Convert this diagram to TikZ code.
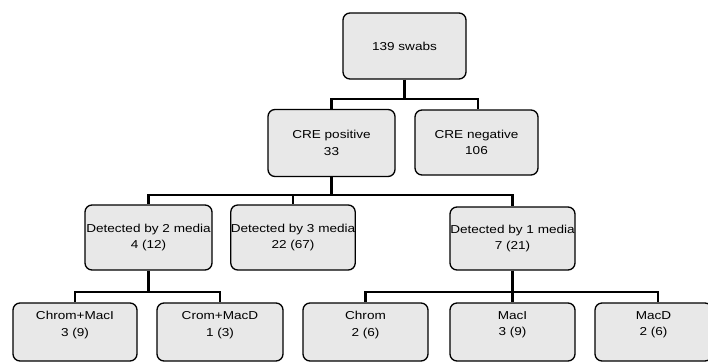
\documentclass[tikz,border=0pt]{standalone}
\usepackage{fontspec}
\setmainfont{Liberation Sans}[FakeStretch=1.18]
\begin{document}
\begin{tikzpicture}[x=1pt,y=-1pt,
  box/.style={draw=black, line width=1.3pt, rounded corners=7pt, fill=black!9,
    align=center, inner sep=0pt, font=\fontsize{11.5}{16.5}\selectfont},
  link/.style={draw=black, line width=2.2pt}]
\useasboundingbox (0,0) rectangle (708,362);
\begin{scope}
\clip (0,0) rectangle (708,362);
\node[box, minimum width=123pt, minimum height=66pt] (top) at (404.5,46) {139 swabs};
\node[box, minimum width=127pt, minimum height=67pt] (pos) at (331.5,143) {CRE positive\\33};
\node[box, minimum width=123pt, minimum height=65pt] (neg) at (476.5,142.5) {CRE negative\\106};
\node[box, minimum width=127pt, minimum height=65pt] (d2) at (148.5,237.5) {Detected by 2 media\\4 (12)};
\node[box, minimum width=121pt, minimum height=65pt] (d3) at (293,237.5) {Detected by 3 media\\22 (67)};
\node[box, minimum width=125pt, minimum height=63pt] (d1) at (512.5,238.5) {Detected by 1 media\\7 (21)};
\node[box, minimum width=124pt, minimum height=58pt] (cm1) at (75,332) {Chrom+MacI\\3 (9)\\[0pt]};
\node[box, minimum width=126pt, minimum height=58pt] (cm2) at (220,332) {Crom+MacD\\1 (3)\\[0pt]};
\node[box, minimum width=125pt, minimum height=58pt] (ch) at (365.5,332) {Chrom\\2 (6)\\[0pt]};
\node[box, minimum width=125pt, minimum height=58pt] (mi) at (512.5,332) {MacI\\3 (9)\\[0pt]};
\node[box, minimum width=117pt, minimum height=58pt] (md) at (653.5,332) {MacD\\2 (6)\\[0pt]};
\end{scope}
\coordinate (j1) at (404.5,99);
\coordinate (j2) at (331.5,195);
\coordinate (j3) at (148.5,292);
\coordinate (j4) at (512.5,292);
\draw[link] (top.south) -- (j1) -| (pos.north);
\draw[link] (j1) -| ([xshift=1.5pt]neg.north);
\draw[link] (pos.south) -- (j2) -| (d2.north);
\draw[link] (j2) -| (d3.north);
\draw[link] (j2) -| (d1.north);
\draw[link] (d2.south) -- (j3) -| (cm1.north);
\draw[link] (j3) -| (cm2.north);
\draw[link] (d1.south) -- (j4) -| (ch.north);
\draw[link] (j4) -| (mi.north);
\draw[link] (j4) -| ([xshift=4.5pt]md.north);
\end{tikzpicture}
\end{document}
